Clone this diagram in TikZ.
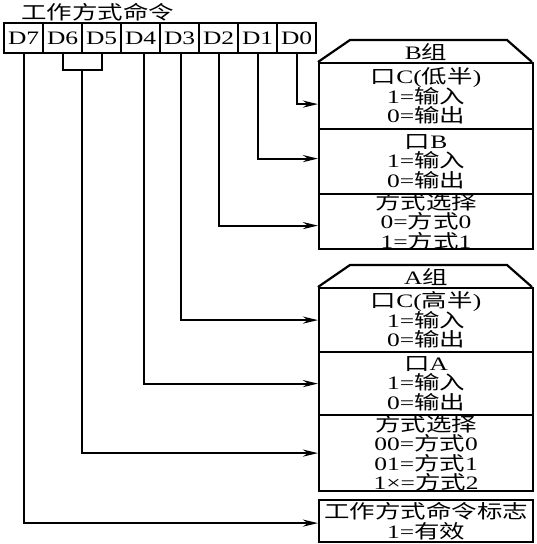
\documentclass[tikz,border=0pt]{standalone}
\usepackage{fontspec}
\usepackage{graphicx}
\setmainfont{Liberation Serif}
\newfontfamily\cjk{Noto Sans CJK SC}
\newcommand\zhs[1]{{\cjk #1}}
\newcommand\sx[1]{\scalebox{1.34}[1]{\vbox{\baselineskip=19.5pt\lineskiplimit=-30pt\lineskip=0pt\let\\\cr\halign{\hfil##\hfil\cr#1\crcr}}}}
\usetikzlibrary{calc,arrows.meta}
\tikzset{
  txt/.style={font=\fontsize{19}{19.5}\selectfont, inner sep=0pt},
  cell/.style={draw, line width=2.2pt, minimum width=39pt, minimum height=30pt,
    inner sep=0pt, anchor=north west, font=\fontsize{19}{19.5}\selectfont},
  sect/.style={draw, line width=2.2pt, minimum width=214pt, anchor=north west, inner sep=0pt},
  hdr/.style={line width=2.2pt},
  conn/.style={line width=2.2pt, -{Stealth[length=15pt,width=7pt]}},
  wire/.style={line width=2.2pt},
}
\begin{document}
\begin{tikzpicture}[x=1pt,y=-1pt]
\useasboundingbox (0,0) rectangle (536,544);
% title
\node[txt, anchor=west] (title) at (21,12) {\sx{\zhs{工作方式命令}}};
% register cells
\node[cell] (d7) at (3,22) {\sx{D7}};
\node[cell] (d6) at (42,22) {\sx{D6}};
\node[cell] (d5) at (81,22) {\sx{D5}};
\node[cell] (d4) at (120,22) {\sx{D4}};
\node[cell] (d3) at (159,22) {\sx{D3}};
\node[cell] (d2) at (198,22) {\sx{D2}};
\node[cell] (d1) at (237,22) {\sx{D1}};
\node[cell] (d0) at (276,22) {\sx{D0}};

% group B
\draw[hdr] (318,62) -- (350,40) -- (507,40) -- (532,62);
\node[txt] (Bh) at (426,52) {\sx{B\zhs{组}}};
\node[sect, minimum height=66pt] (Bc) at (318,62) {};
\node[txt] (BcT) at (Bc.center) {\sx{\zhs{口}C(\zhs{低半})\\1=\zhs{输入}\\0=\zhs{输出}}};
\node[sect, minimum height=65pt] (Bb) at (318,128) {};
\node[txt] (BbT) at (Bb.center) {\sx{\zhs{口}B\\1=\zhs{输入}\\0=\zhs{输出}}};
\node[sect, minimum height=55pt] (Bm) at (318,193) {};
\node[txt] (BmT) at (Bm.center) {\sx{\zhs{方式选择}\\0=\zhs{方式}0\\1=\zhs{方式}1}};

% group A
\draw[hdr] (318,287) -- (350,265) -- (507,265) -- (532,287);
\node[txt] (Ah) at (426,277) {\sx{A\zhs{组}}};
\node[sect, minimum height=64pt] (Ac) at (318,287) {};
\node[txt] (AcT) at (Ac.center) {\sx{\zhs{口}C(\zhs{高半})\\1=\zhs{输入}\\0=\zhs{输出}}};
\node[sect, minimum height=63pt] (Ap) at (318,351) {};
\node[txt] (ApT) at (Ap.center) {\sx{\zhs{口}A\\1=\zhs{输入}\\0=\zhs{输出}}};
\node[sect, minimum height=76pt] (Am) at (318,414) {};
\node[txt] (AmT) at (Am.center) {\sx{\zhs{方式选择}\\00=\zhs{方式}0\\01=\zhs{方式}1\\1×=\zhs{方式}2}};

% flag box
\node[sect, minimum height=42pt] (fl) at (318,499) {};
\node[txt] (flT) at (fl.center) {\sx{\zhs{工作方式命令标志}\\1=\zhs{有效}}};

% connectors
\draw[conn] (d0.south) |- ([yshift=-8pt]Bc.west);
\draw[conn] (d1.south) |- ([yshift=3pt]Bb.west);
\draw[conn] (d2.south) |- ([yshift=-4pt]Bm.west);
\draw[conn] ([xshift=1pt]d3.south) |- (Ac.west);
\draw[conn] ([xshift=3pt]d4.south) |- (Ap.west);
\draw[wire] (d6.south) -- ++(0,16) coordinate (b6) -| (d5.south);
\coordinate (m65) at ($(b6)!0.5!(b6 -| d5.south)$);
\draw[conn] (m65) |- (Am.west);
\draw[conn] (d7.south) |- ([yshift=-2pt]fl.west);
\end{tikzpicture}
\end{document}
